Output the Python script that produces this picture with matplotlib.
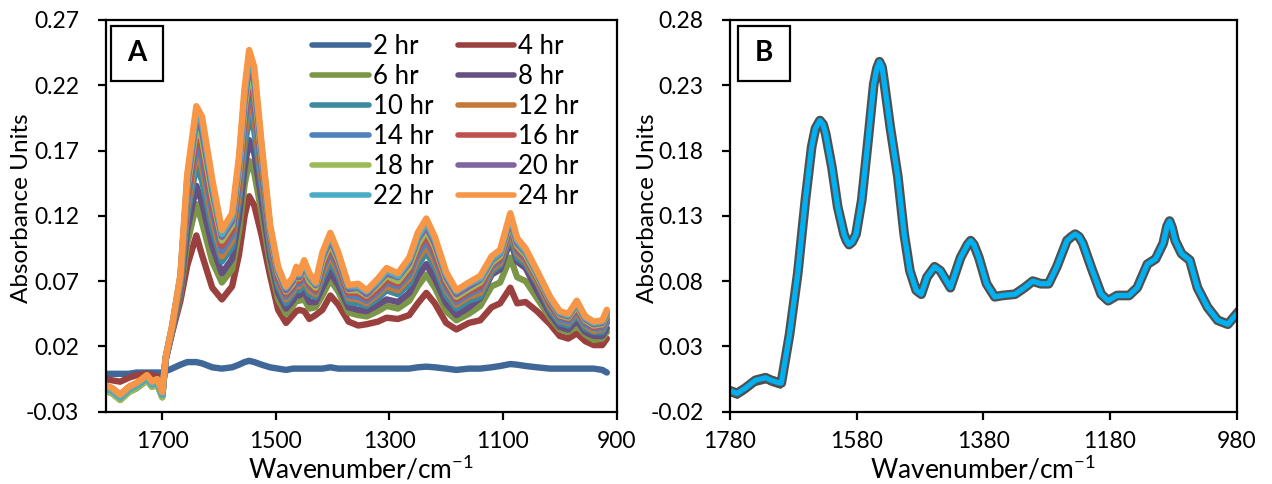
#!/usr/bin/env python
#-*- coding:utf-8 -*-
import numpy as np
import matplotlib
matplotlib.use('Agg')
from matplotlib import pyplot as plt
from matplotlib.patches import Rectangle

plt.rcParams['font.family'] = ['Lato', 'DejaVu Sans']
plt.rcParams['mathtext.fontset'] = 'custom'
plt.rcParams['mathtext.rm'] = 'Lato'
plt.rcParams['mathtext.bf'] = 'Lato:bold'

# ---- panel A : spectra every 2 hr ----
wn_a = [1800, 1788, 1774, 1759, 1745, 1727, 1718, 1709, 1700,
        1694, 1683, 1668, 1656, 1640, 1630, 1612, 1595, 1577,
        1565, 1555, 1547, 1538, 1525, 1510, 1496, 1482, 1470,
        1464, 1459, 1450, 1441, 1430, 1418, 1404, 1390, 1372,
        1355, 1340, 1320, 1305, 1285, 1265, 1250, 1235, 1220,
        1200, 1182, 1160, 1140, 1120, 1105, 1087, 1075, 1060,
        1040, 1017, 1000, 985, 970, 955, 940, 925, 917]

hr2 = [-0.001, -0.001, -0.001, -0.001, 0.000, 0.000, 0.000, 0.000, 0.000,
       0.001, 0.003, 0.006, 0.008, 0.008, 0.007, 0.004, 0.003, 0.004,
       0.006, 0.008, 0.009, 0.008, 0.006, 0.004, 0.003, 0.002, 0.003,
       0.003, 0.003, 0.003, 0.003, 0.003, 0.003, 0.004, 0.003, 0.003,
       0.003, 0.003, 0.003, 0.003, 0.003, 0.003, 0.004, 0.0045, 0.004,
       0.003, 0.002, 0.003, 0.003, 0.004, 0.005, 0.0065, 0.006, 0.005,
       0.004, 0.003, 0.003, 0.003, 0.003, 0.003, 0.003, 0.002, 0.000]
hr4 = [-0.005, -0.006, -0.007, -0.004, -0.002, -0.001, -0.002, -0.003, -0.012,
       0.010, 0.030, 0.055, 0.082, 0.105, 0.090, 0.065, 0.056, 0.066,
       0.090, 0.120, 0.135, 0.128, 0.105, 0.074, 0.048, 0.038, 0.044,
       0.047, 0.048, 0.047, 0.041, 0.044, 0.048, 0.059, 0.052, 0.039,
       0.036, 0.037, 0.039, 0.042, 0.041, 0.044, 0.053, 0.061, 0.053,
       0.038, 0.033, 0.038, 0.040, 0.050, 0.053, 0.065, 0.053, 0.054,
       0.047, 0.037, 0.028, 0.026, 0.030, 0.024, 0.021, 0.021, 0.026]
hr6 = [-0.014, -0.016, -0.021, -0.015, -0.012, -0.006, -0.011, -0.009, -0.019,
       0.010, 0.031, 0.060, 0.099, 0.129, 0.115, 0.085, 0.069, 0.079,
       0.108, 0.144, 0.162, 0.153, 0.122, 0.083, 0.056, 0.045, 0.051,
       0.055, 0.055, 0.056, 0.049, 0.050, 0.059, 0.071, 0.062, 0.046,
       0.044, 0.043, 0.047, 0.051, 0.049, 0.055, 0.066, 0.075, 0.065,
       0.047, 0.040, 0.045, 0.051, 0.066, 0.069, 0.088, 0.073, 0.070,
       0.057, 0.042, 0.033, 0.031, 0.036, 0.029, 0.025, 0.026, 0.031]
hr8 = [-0.011, -0.013, -0.018, -0.012, -0.009, -0.003, -0.008, -0.006, -0.016,
       0.010, 0.031, 0.063, 0.109, 0.143, 0.130, 0.097, 0.076, 0.087,
       0.119, 0.157, 0.178, 0.168, 0.132, 0.089, 0.061, 0.049, 0.055,
       0.060, 0.059, 0.062, 0.054, 0.054, 0.065, 0.077, 0.067, 0.050,
       0.048, 0.047, 0.052, 0.056, 0.054, 0.061, 0.074, 0.083, 0.072,
       0.053, 0.044, 0.050, 0.057, 0.075, 0.079, 0.101, 0.085, 0.080,
       0.063, 0.045, 0.035, 0.033, 0.040, 0.031, 0.028, 0.028, 0.034]
hr10 = [-0.012, -0.014, -0.019, -0.013, -0.010, -0.004, -0.009, -0.007, -0.017,
        0.011, 0.032, 0.066, 0.120, 0.159, 0.147, 0.110, 0.085, 0.096,
        0.131, 0.173, 0.196, 0.185, 0.143, 0.095, 0.066, 0.053, 0.060,
        0.065, 0.063, 0.068, 0.060, 0.058, 0.072, 0.085, 0.074, 0.054,
        0.053, 0.051, 0.057, 0.063, 0.060, 0.068, 0.082, 0.092, 0.081,
        0.059, 0.049, 0.055, 0.058, 0.077, 0.082, 0.105, 0.088, 0.083,
        0.069, 0.048, 0.038, 0.036, 0.044, 0.034, 0.031, 0.031, 0.038]
hr12 = [-0.010, -0.012, -0.017, -0.011, -0.008, -0.002, -0.007, -0.005, -0.015,
        0.011, 0.032, 0.068, 0.126, 0.167, 0.157, 0.117, 0.089, 0.101,
        0.137, 0.182, 0.206, 0.195, 0.149, 0.099, 0.069, 0.056, 0.062,
        0.068, 0.066, 0.072, 0.063, 0.060, 0.076, 0.089, 0.077, 0.057,
        0.056, 0.053, 0.060, 0.066, 0.063, 0.072, 0.087, 0.097, 0.085,
        0.063, 0.052, 0.058, 0.061, 0.079, 0.084, 0.108, 0.091, 0.085,
        0.070, 0.050, 0.040, 0.038, 0.046, 0.036, 0.032, 0.033, 0.040]
hr14 = [-0.011, -0.013, -0.018, -0.012, -0.009, -0.003, -0.008, -0.006, -0.016,
        0.011, 0.033, 0.069, 0.131, 0.174, 0.164, 0.123, 0.093, 0.105,
        0.143, 0.189, 0.213, 0.202, 0.154, 0.101, 0.071, 0.058, 0.064,
        0.071, 0.068, 0.074, 0.066, 0.062, 0.079, 0.093, 0.080, 0.059,
        0.058, 0.055, 0.062, 0.069, 0.066, 0.075, 0.091, 0.101, 0.089,
        0.065, 0.054, 0.060, 0.064, 0.081, 0.086, 0.111, 0.093, 0.087,
        0.072, 0.052, 0.041, 0.039, 0.048, 0.037, 0.034, 0.034, 0.041]
hr16 = [-0.013, -0.015, -0.020, -0.014, -0.011, -0.005, -0.010, -0.008, -0.018,
        0.011, 0.033, 0.070, 0.136, 0.181, 0.172, 0.129, 0.097, 0.109,
        0.148, 0.196, 0.221, 0.210, 0.159, 0.104, 0.073, 0.060, 0.066,
        0.073, 0.070, 0.077, 0.068, 0.063, 0.082, 0.096, 0.083, 0.061,
        0.061, 0.057, 0.064, 0.071, 0.068, 0.078, 0.095, 0.105, 0.092,
        0.068, 0.056, 0.062, 0.066, 0.083, 0.087, 0.113, 0.095, 0.088,
        0.073, 0.053, 0.043, 0.041, 0.049, 0.039, 0.035, 0.036, 0.043]
hr18 = [-0.014, -0.016, -0.021, -0.015, -0.012, -0.006, -0.011, -0.009, -0.019,
        0.011, 0.034, 0.072, 0.141, 0.188, 0.179, 0.135, 0.101, 0.113,
        0.153, 0.202, 0.229, 0.217, 0.164, 0.107, 0.076, 0.062, 0.068,
        0.076, 0.072, 0.080, 0.070, 0.065, 0.085, 0.099, 0.086, 0.063,
        0.063, 0.059, 0.067, 0.074, 0.070, 0.081, 0.098, 0.109, 0.096,
        0.071, 0.058, 0.064, 0.069, 0.084, 0.089, 0.115, 0.097, 0.090,
        0.074, 0.055, 0.044, 0.042, 0.051, 0.040, 0.036, 0.037, 0.044]
hr20 = [-0.012, -0.014, -0.019, -0.013, -0.010, -0.004, -0.009, -0.007, -0.017,
        0.011, 0.034, 0.073, 0.145, 0.194, 0.185, 0.140, 0.104, 0.116,
        0.158, 0.208, 0.236, 0.223, 0.168, 0.109, 0.078, 0.063, 0.070,
        0.078, 0.073, 0.082, 0.073, 0.067, 0.088, 0.102, 0.088, 0.064,
        0.065, 0.060, 0.069, 0.076, 0.073, 0.084, 0.102, 0.112, 0.099,
        0.073, 0.060, 0.066, 0.071, 0.086, 0.091, 0.117, 0.099, 0.092,
        0.076, 0.056, 0.045, 0.043, 0.053, 0.041, 0.037, 0.038, 0.046]
hr22 = [-0.012, -0.014, -0.019, -0.013, -0.010, -0.004, -0.009, -0.007, -0.017,
        0.012, 0.035, 0.074, 0.149, 0.199, 0.191, 0.144, 0.106, 0.119,
        0.161, 0.213, 0.241, 0.229, 0.172, 0.111, 0.079, 0.065, 0.072,
        0.079, 0.075, 0.084, 0.074, 0.068, 0.090, 0.105, 0.090, 0.066,
        0.066, 0.062, 0.070, 0.078, 0.074, 0.086, 0.104, 0.115, 0.102,
        0.075, 0.062, 0.068, 0.072, 0.087, 0.092, 0.120, 0.101, 0.093,
        0.077, 0.057, 0.046, 0.044, 0.054, 0.042, 0.038, 0.039, 0.047]
hr24 = [-0.010, -0.012, -0.017, -0.011, -0.008, -0.002, -0.007, -0.005, -0.015,
        0.012, 0.035, 0.075, 0.152, 0.204, 0.196, 0.148, 0.109, 0.122,
        0.165, 0.218, 0.247, 0.234, 0.175, 0.113, 0.081, 0.066, 0.073,
        0.081, 0.076, 0.086, 0.076, 0.069, 0.092, 0.107, 0.092, 0.067,
        0.068, 0.063, 0.072, 0.080, 0.076, 0.088, 0.107, 0.118, 0.104,
        0.077, 0.063, 0.069, 0.074, 0.089, 0.094, 0.122, 0.103, 0.095,
        0.078, 0.058, 0.047, 0.045, 0.055, 0.043, 0.039, 0.040, 0.048]

series_a = [hr2, hr4, hr6, hr8, hr10, hr12, hr14, hr16, hr18, hr20, hr22, hr24]
labels_a = ['2 hr', '4 hr', '6 hr', '8 hr', '10 hr', '12 hr',
            '14 hr', '16 hr', '18 hr', '20 hr', '22 hr', '24 hr']
colors_a = ['#3F6797', '#9A403E', '#7C9647', '#665082', '#3C8A9E', '#C67838',
            '#4F81BD', '#C0504D', '#9BBB59', '#8064A2', '#4BACC6', '#F79646']
xticks_a = [1700, 1500, 1300, 1100, 900]
yticks_a = [-0.03, 0.02, 0.07, 0.12, 0.17, 0.22, 0.27]
yticklabels_a = ['-0.03', '0.02', '0.07', '0.12', '0.17', '0.22', '0.27']

# ---- panel B : mean spectrum with sd ----
wn_b = [1780, 1769, 1756, 1740, 1724, 1715, 1702, 1699, 1686, 1673,
        1661, 1651, 1645, 1638, 1633, 1629, 1619, 1610, 1600, 1596,
        1592, 1587, 1581, 1572, 1562, 1553, 1548, 1544, 1540, 1537,
        1527, 1515, 1505, 1496, 1486, 1478, 1469, 1457, 1448, 1432,
        1416, 1405, 1400, 1395, 1387, 1375, 1362, 1350, 1330, 1315,
        1302, 1289, 1277, 1264, 1248, 1241, 1235, 1229, 1223, 1210,
        1194, 1183, 1169, 1150, 1137, 1121, 1108, 1096, 1090, 1086,
        1082, 1077, 1067, 1054, 1042, 1026, 1010, 994, 980]
mean_b = [-0.004, -0.006, -0.002, 0.004, 0.006, 0.004, 0.002, 0.002, 0.039, 0.086,
          0.142, 0.183, 0.197, 0.203, 0.200, 0.193, 0.167, 0.137, 0.116, 0.111,
          0.108, 0.110, 0.116, 0.142, 0.188, 0.231, 0.243, 0.248, 0.244, 0.234,
          0.198, 0.160, 0.116, 0.088, 0.073, 0.070, 0.083, 0.091, 0.088, 0.075,
          0.098, 0.108, 0.111, 0.108, 0.098, 0.078, 0.068, 0.069, 0.070, 0.075,
          0.080, 0.078, 0.078, 0.091, 0.111, 0.114, 0.116, 0.114, 0.109, 0.091,
          0.070, 0.065, 0.069, 0.069, 0.075, 0.093, 0.097, 0.109, 0.122, 0.126,
          0.121, 0.111, 0.101, 0.096, 0.075, 0.060, 0.050, 0.047, 0.055]
sd_b = [0.004, 0.004, 0.004, 0.004, 0.004, 0.004, 0.004, 0.004, 0.002, 0.002,
        0.002, 0.002, 0.003, 0.003, 0.003, 0.002, 0.002, 0.002, 0.002, 0.002,
        0.002, 0.002, 0.002, 0.002, 0.002, 0.003, 0.004, 0.004, 0.004, 0.003,
        0.002, 0.002, 0.002, 0.002, 0.002, 0.002, 0.002, 0.003, 0.003, 0.002,
        0.002, 0.002, 0.002, 0.002, 0.002, 0.002, 0.002, 0.002, 0.002, 0.002,
        0.002, 0.002, 0.002, 0.002, 0.002, 0.002, 0.002, 0.002, 0.002, 0.002,
        0.002, 0.002, 0.002, 0.002, 0.002, 0.002, 0.002, 0.002, 0.002, 0.002,
        0.002, 0.002, 0.002, 0.002, 0.002, 0.002, 0.002, 0.002, 0.002]
xticks_b = [1780, 1580, 1380, 1180, 980]
yticks_b = [-0.02, 0.03, 0.08, 0.13, 0.18, 0.23, 0.28]
yticklabels_b = ['-0.02', '0.03', '0.08', '0.13', '0.18', '0.23', '0.28']

FS = 16.5
W, H = 1272., 484.


def style_axis(ax, xticks, yticks, yticklabels):
    for sp in ax.spines.values():
        sp.set_linewidth(1.6)
        sp.set_color('black')
    ax.set_xticks(xticks)
    ax.set_xticklabels([str(t) for t in xticks])
    ax.set_yticks(yticks)
    ax.set_yticklabels(yticklabels)
    ax.tick_params(axis='both', direction='out', length=6, width=1.6,
                   labelsize=FS, colors='black')
    ax.tick_params(axis='y', pad=13)
    ax.tick_params(axis='x', pad=8)
    ax.set_xlabel('Wavenumber/cm$^{\\mathregular{-1}}$', fontsize=19)
    ax.set_ylabel('Absorbance Units', fontsize=17.5)
    ax.xaxis.set_label_coords(0.5, -0.107)
    ax.yaxis.set_label_coords(-0.143, 0.52)


def panel_tag(ax, x0, x1, tag):
    y0, y1 = 0.844, 0.985
    ax.add_patch(Rectangle((x0, y0), x1 - x0, y1 - y0, transform=ax.transAxes,
                           fill=False, lw=1.6, ec='black', zorder=5))
    ax.text((x0 + x1) / 2, (y0 + y1) / 2, tag, transform=ax.transAxes,
            ha='center', va='center', fontsize=20, fontweight='bold', zorder=6)


if __name__ == '__main__':
    fig = plt.figure(figsize=(W / 100, H / 100), dpi=100)
    ax_a = fig.add_axes([105.5 / W, (H - 411.7) / H, 511 / W, 391.7 / H])
    ax_b = fig.add_axes([730 / W, (H - 411.7) / H, 506.7 / W, 391.7 / H])

    # A
    lines = []
    for vals, lab, col in zip(series_a, labels_a, colors_a):
        ln, = ax_a.plot(wn_a, vals, color=col, lw=4.6, label=lab,
                        solid_joinstyle='round', solid_capstyle='round')
        lines.append(ln)
    ax_a.set_xlim(1800, 900)
    ax_a.set_ylim(-0.03, 0.27)
    style_axis(ax_a, xticks_a, yticks_a, yticklabels_a)
    # excel fills the legend row by row
    order = lines[0::2] + lines[1::2]
    leg = ax_a.legend(order, [l.get_label() for l in order], ncol=2, frameon=False,
                      loc='upper left', bbox_to_anchor=(0.405, 0.965), borderaxespad=0,
                      borderpad=0, fontsize=18.5, handlelength=2.2, handletextpad=0.15,
                      columnspacing=0.95, labelspacing=0.2)
    for h in leg.legend_handles:
        h.set_linewidth(4.0)
    panel_tag(ax_a, 0.011, 0.1125, 'A')

    # B
    lo = np.array(mean_b) - np.array(sd_b)
    hi = np.array(mean_b) + np.array(sd_b)
    ax_b.fill_between(wn_b, lo, hi, color='#505050', lw=0)
    ax_b.plot(wn_b, mean_b, color='#505050', lw=7.0, solid_joinstyle='round')
    ax_b.plot(wn_b, mean_b, color='#00B0F0', lw=3.8, solid_joinstyle='round',
              solid_capstyle='round')
    ax_b.set_xlim(1780, 980)
    ax_b.set_ylim(-0.02, 0.28)
    style_axis(ax_b, xticks_b, yticks_b, yticklabels_b)
    panel_tag(ax_b, 0.015, 0.118, 'B')

    fig.savefig('out.png', dpi=100)
    print('saved out.png')
